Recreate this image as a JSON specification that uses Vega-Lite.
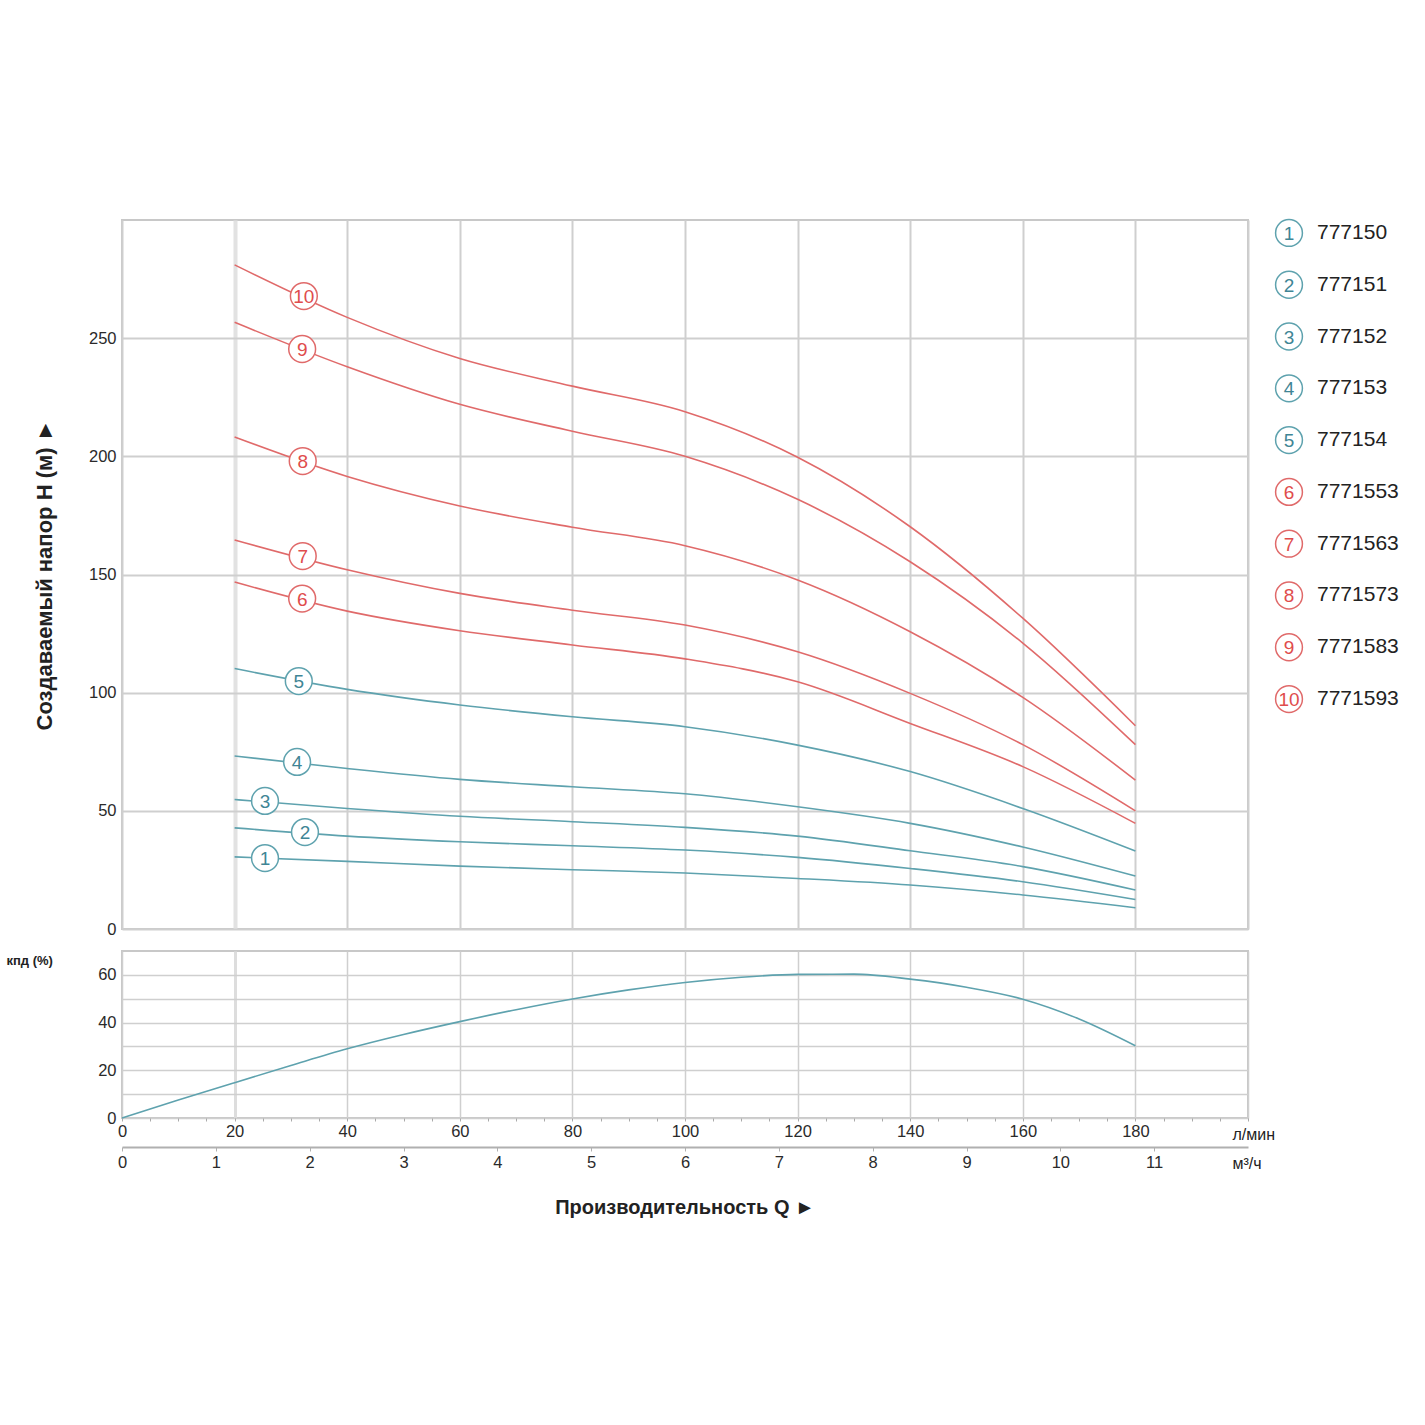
{
  "$schema": "https://vega.github.io/schema/vega-lite/v6.json",
  "background": "white",
  "autosize": {"type": "pad"},
  "padding": {"left": 5, "top": 216, "right": 0, "bottom": 10},
  "config": {
    "view": {"stroke": null},
    "font": "Liberation Sans",
    "axis": {
      "labelFont": "Liberation Sans",
      "labelColor": "#2a2a2a",
      "labelFontSize": 16.5,
      "gridColor": "#cfcfcf",
      "gridWidth": 2,
      "domain": false,
      "ticks": false,
      "titleFont": "Liberation Sans",
      "titleColor": "#222222"
    }
  },
  "datasets": {
    "curves": [
      {"model": 10, "Q": 20, "H": 281}, {"model": 10, "Q": 40, "H": 258.8}, {"model": 10, "Q": 60, "H": 241.4}, {"model": 10, "Q": 80, "H": 229.7}, {"model": 10, "Q": 100, "H": 218.9}, {"model": 10, "Q": 120, "H": 199.6}, {"model": 10, "Q": 140, "H": 170.2}, {"model": 10, "Q": 160, "H": 131.5}, {"model": 10, "Q": 180, "H": 86},
      {"model": 9, "Q": 20, "H": 256.7}, {"model": 9, "Q": 40, "H": 237.9}, {"model": 9, "Q": 60, "H": 222}, {"model": 9, "Q": 80, "H": 210.6}, {"model": 9, "Q": 100, "H": 200}, {"model": 9, "Q": 120, "H": 181.8}, {"model": 9, "Q": 140, "H": 155.4}, {"model": 9, "Q": 160, "H": 121}, {"model": 9, "Q": 180, "H": 78},
      {"model": 8, "Q": 20, "H": 208.2}, {"model": 8, "Q": 40, "H": 191.5}, {"model": 8, "Q": 60, "H": 179}, {"model": 8, "Q": 80, "H": 170}, {"model": 8, "Q": 100, "H": 162.2}, {"model": 8, "Q": 120, "H": 147.7}, {"model": 8, "Q": 140, "H": 125.8}, {"model": 8, "Q": 160, "H": 98}, {"model": 8, "Q": 180, "H": 63},
      {"model": 7, "Q": 20, "H": 164.6}, {"model": 7, "Q": 40, "H": 152}, {"model": 7, "Q": 60, "H": 142}, {"model": 7, "Q": 80, "H": 134.9}, {"model": 7, "Q": 100, "H": 128.6}, {"model": 7, "Q": 120, "H": 117.3}, {"model": 7, "Q": 140, "H": 99.7}, {"model": 7, "Q": 160, "H": 78}, {"model": 7, "Q": 180, "H": 50},
      {"model": 6, "Q": 20, "H": 146.8}, {"model": 6, "Q": 40, "H": 134.5}, {"model": 6, "Q": 60, "H": 126.2}, {"model": 6, "Q": 80, "H": 120.2}, {"model": 6, "Q": 100, "H": 114.3}, {"model": 6, "Q": 120, "H": 104.6}, {"model": 6, "Q": 140, "H": 87}, {"model": 6, "Q": 160, "H": 68.7}, {"model": 6, "Q": 180, "H": 44.7},
      {"model": 5, "Q": 20, "H": 110.2}, {"model": 5, "Q": 40, "H": 101.4}, {"model": 5, "Q": 60, "H": 94.8}, {"model": 5, "Q": 80, "H": 89.8}, {"model": 5, "Q": 100, "H": 85.6}, {"model": 5, "Q": 120, "H": 77.8}, {"model": 5, "Q": 140, "H": 66.6}, {"model": 5, "Q": 160, "H": 51}, {"model": 5, "Q": 180, "H": 33},
      {"model": 4, "Q": 20, "H": 73.2}, {"model": 4, "Q": 40, "H": 67.9}, {"model": 4, "Q": 60, "H": 63.3}, {"model": 4, "Q": 80, "H": 60.2}, {"model": 4, "Q": 100, "H": 57.2}, {"model": 4, "Q": 120, "H": 51.7}, {"model": 4, "Q": 140, "H": 44.7}, {"model": 4, "Q": 160, "H": 34.7}, {"model": 4, "Q": 180, "H": 22.4},
      {"model": 3, "Q": 20, "H": 54.8}, {"model": 3, "Q": 40, "H": 51}, {"model": 3, "Q": 60, "H": 47.7}, {"model": 3, "Q": 80, "H": 45.4}, {"model": 3, "Q": 100, "H": 43}, {"model": 3, "Q": 120, "H": 39.3}, {"model": 3, "Q": 140, "H": 33.1}, {"model": 3, "Q": 160, "H": 26.4}, {"model": 3, "Q": 180, "H": 16.5},
      {"model": 2, "Q": 20, "H": 42.8}, {"model": 2, "Q": 40, "H": 39.3}, {"model": 2, "Q": 60, "H": 36.9}, {"model": 2, "Q": 80, "H": 35.2}, {"model": 2, "Q": 100, "H": 33.4}, {"model": 2, "Q": 120, "H": 30.3}, {"model": 2, "Q": 140, "H": 25.6}, {"model": 2, "Q": 160, "H": 20}, {"model": 2, "Q": 180, "H": 12.5},
      {"model": 1, "Q": 20, "H": 30.5}, {"model": 1, "Q": 40, "H": 28.6}, {"model": 1, "Q": 60, "H": 26.6}, {"model": 1, "Q": 80, "H": 25.1}, {"model": 1, "Q": 100, "H": 23.7}, {"model": 1, "Q": 120, "H": 21.4}, {"model": 1, "Q": 140, "H": 18.6}, {"model": 1, "Q": 160, "H": 14.4}, {"model": 1, "Q": 180, "H": 9}
    ],
    "labels": [
      {"model": 1, "Q": 25.4, "H": 30},
      {"model": 2, "Q": 32.5, "H": 41},
      {"model": 3, "Q": 25.4, "H": 54.2},
      {"model": 4, "Q": 31.1, "H": 70.7},
      {"model": 5, "Q": 31.4, "H": 104.9},
      {"model": 6, "Q": 32, "H": 139.8},
      {"model": 7, "Q": 32.1, "H": 157.8},
      {"model": 8, "Q": 32.1, "H": 198},
      {"model": 9, "Q": 32, "H": 245.4},
      {"model": 10, "Q": 32.3, "H": 267.8}
    ],
    "legend": [
      {"model": 1, "code": "777150"},
      {"model": 2, "code": "777151"},
      {"model": 3, "code": "777152"},
      {"model": 4, "code": "777153"},
      {"model": 5, "code": "777154"},
      {"model": 6, "code": "7771553"},
      {"model": 7, "code": "7771563"},
      {"model": 8, "code": "7771573"},
      {"model": 9, "code": "7771583"},
      {"model": 10, "code": "7771593"}
    ],
    "eff": [
      {"Q": 0, "E": 0}, {"Q": 10, "E": 7.5}, {"Q": 20, "E": 14.8}, {"Q": 30, "E": 22}, {"Q": 40, "E": 29}, {"Q": 50, "E": 35}, {"Q": 60, "E": 40.4}, {"Q": 70, "E": 45.4}, {"Q": 80, "E": 49.9}, {"Q": 90, "E": 53.7}, {"Q": 100, "E": 56.8}, {"Q": 110, "E": 59}, {"Q": 120, "E": 60.2}, {"Q": 130, "E": 60.3}, {"Q": 140, "E": 58.2}, {"Q": 150, "E": 54.8}, {"Q": 160, "E": 49.8}, {"Q": 170, "E": 41.5}, {"Q": 180, "E": 30.3}
    ],
    "m3": [{"m3": 0}, {"m3": 12}]
  },
  "columns": 2,
  "bounds": "flush",
  "spacing": {"row": 22, "column": 26},
  "concat": [
    {
      "width": 1126,
      "height": 709,
      "view": {"stroke": "#c8c8c8", "strokeWidth": 2},
      "layer": [
        {
          "data": {"name": "curves"},
          "mark": {"type": "line", "strokeWidth": 1.6, "interpolate": "monotone"},
          "encoding": {
            "x": {
              "field": "Q", "type": "quantitative",
              "scale": {"domain": [0, 200], "nice": false, "zero": false},
              "axis": {
                "values": [0, 20, 40, 60, 80, 100, 120, 140, 160, 180, 200],
                "labels": false, "title": null,
                "gridWidth": {"condition": {"test": "datum.value === 20", "value": 4}, "value": 2},
                "gridColor": {"condition": {"test": "datum.value === 20", "value": "#e2e2e2"}, "value": "#cfcfcf"}
              }
            },
            "y": {
              "field": "H", "type": "quantitative",
              "scale": {"domain": [0, 300], "nice": false},
              "axis": {
                "values": [0, 50, 100, 150, 200, 250],
                "labelPadding": 6,
                "title": "Создаваемый напор H (м) ►",
                "titleFontSize": 22, "titleFontWeight": "bold",
                "titlePadding": 32
              }
            },
            "color": {
              "field": "model", "type": "nominal",
              "scale": {"domain": [1, 2, 3, 4, 5, 6, 7, 8, 9, 10], "range": ["#5ea2ae", "#5ea2ae", "#5ea2ae", "#5ea2ae", "#5ea2ae", "#e06a6a", "#e06a6a", "#e06a6a", "#e06a6a", "#e06a6a"]},
              "legend": null
            }
          }
        },
        {
          "data": {"name": "labels"},
          "mark": {"type": "point", "filled": false, "fill": "white", "fillOpacity": 1, "opacity": 1, "size": 720, "strokeWidth": 1.5},
          "encoding": {
            "x": {"field": "Q", "type": "quantitative"},
            "y": {"field": "H", "type": "quantitative"},
            "color": {"field": "model", "type": "nominal", "legend": null}
          }
        },
        {
          "data": {"name": "labels"},
          "mark": {"type": "text", "fontSize": 19, "align": "center", "baseline": "middle", "dy": 1},
          "encoding": {
            "x": {"field": "Q", "type": "quantitative"},
            "y": {"field": "H", "type": "quantitative"},
            "text": {"field": "model", "type": "nominal"},
            "fill": {
              "field": "model", "type": "nominal",
              "scale": {"domain": [1, 2, 3, 4, 5, 6, 7, 8, 9, 10], "range": ["#3f8595", "#3f8595", "#3f8595", "#3f8595", "#3f8595", "#e04c4c", "#e04c4c", "#e04c4c", "#e04c4c", "#e04c4c"]},
              "legend": null
            }
          }
        }
      ]
    },
    {
      "width": 30,
      "height": 492,
      "data": {"name": "legend"},
      "encoding": {
        "y": {"field": "model", "type": "ordinal", "scale": {"type": "point", "padding": 0.25}, "axis": null}
      },
      "layer": [
        {
          "mark": {"type": "point", "filled": false, "fill": "white", "fillOpacity": 1, "opacity": 1, "size": 720, "strokeWidth": 1.5},
          "encoding": {"color": {"field": "model", "type": "nominal", "legend": null}}
        },
        {
          "mark": {"type": "text", "fontSize": 19, "align": "center", "baseline": "middle", "dy": 1},
          "encoding": {
            "text": {"field": "model", "type": "nominal"},
            "fill": {"field": "model", "type": "nominal", "legend": null}
          }
        },
        {
          "mark": {"type": "text", "fontSize": 21, "align": "left", "baseline": "middle", "dx": 28, "color": "#222222"},
          "encoding": {"text": {"field": "code", "type": "nominal"}}
        }
      ]
    },
    {
      "width": 1126,
      "height": 167,
      "view": {"stroke": "#c8c8c8", "strokeWidth": 2},
      "title": {
        "text": "Производительность Q ►",
        "orient": "bottom", "anchor": "middle", "frame": "group",
        "fontSize": 20, "fontWeight": "bold", "color": "#222222", "offset": 27
      },
      "layer": [
        {
          "data": {"name": "eff"},
          "mark": {"type": "line", "strokeWidth": 1.6, "interpolate": "monotone", "color": "#5ea2ae"},
          "encoding": {
            "x": {
              "field": "Q", "type": "quantitative",
              "scale": {"domain": [0, 200], "nice": false, "zero": false},
              "axis": {
                "values": [0, 5, 10, 15, 20, 25, 30, 35, 40, 45, 50, 55, 60, 65, 70, 75, 80, 85, 90, 95, 100, 105, 110, 115, 120, 125, 130, 135, 140, 145, 150, 155, 160, 165, 170, 175, 180, 185, 190, 195, 200],
                "labelExpr": "(datum.value % 20 === 0 && datum.value <= 180) ? datum.label : ''",
                "labelOverlap": false, "labelFlush": false,
                "ticks": true, "tickSize": 3, "tickColor": "#aaaaaa", "labelPadding": 2,
                "gridOpacity": {"condition": {"test": "datum.value % 20 === 0", "value": 1}, "value": 0},
                "gridWidth": {"condition": {"test": "datum.value === 20", "value": 3}, "value": 1.5},
                "gridColor": {"condition": {"test": "datum.value === 20", "value": "#dddddd"}, "value": "#cfcfcf"},
                "title": "л/мин",
                "titleFontSize": 16, "titleFontWeight": "normal",
                "titleAngle": 0, "titleAlign": "left", "titleBaseline": "middle",
                "titleX": 1110, "titleY": 16
              }
            },
            "y": {
              "field": "E", "type": "quantitative",
              "scale": {"domain": [0, 70], "nice": false},
              "axis": {
                "values": [0, 10, 20, 30, 40, 50, 60],
                "labelExpr": "datum.value % 20 === 0 ? datum.label : ''",
                "labelOverlap": false, "labelPadding": 6,
                "gridWidth": 1.5,
                "title": "кпд (%)",
                "titleFontSize": 13, "titleFontWeight": "bold",
                "titleAngle": 0, "titleAlign": "left", "titleBaseline": "middle",
                "titleX": -116, "titleY": 9
              }
            }
          }
        },
        {
          "data": {"name": "m3"},
          "mark": {"type": "rule", "opacity": 0},
          "encoding": {
            "x": {
              "field": "m3", "type": "quantitative",
              "scale": {"domain": [0, 12], "nice": false, "zero": false},
              "axis": {
                "orient": "bottom", "offset": 29,
                "values": [0, 1, 2, 3, 4, 5, 6, 7, 8, 9, 10, 11],
                "labelFlush": false, "labelOverlap": false,
                "domain": true, "domainColor": "#b0b0b0", "domainWidth": 2,
                "ticks": true, "tickSize": 4, "tickColor": "#b0b0b0", "labelPadding": 3,
                "grid": false,
                "title": "м³/ч",
                "titleFontSize": 16, "titleFontWeight": "normal",
                "titleAngle": 0, "titleAlign": "left", "titleBaseline": "middle",
                "titleX": 1110, "titleY": 16
              }
            }
          }
        }
      ],
      "resolve": {"scale": {"x": "independent"}, "axis": {"x": "independent"}}
    }
  ]
}
